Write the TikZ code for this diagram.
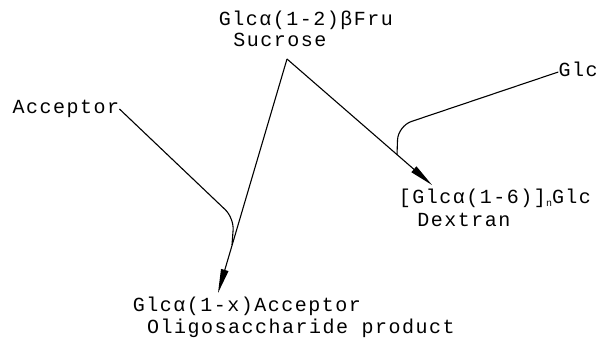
\documentclass[tikz,border=0pt]{standalone}
\usepackage{fontspec}
\setmainfont[LetterSpace=7.5]{Liberation Mono}
\usetikzlibrary{arrows.meta}
\tikzset{
  lbl/.style={inner sep=0pt, text height=11pt, text depth=2pt, font=\fontsize{20}{22}\selectfont},
  conn/.style={line width=1.1pt, black},
  arr/.style={conn, -{Triangle[length=24pt,width=7.5pt]}},
}
\begin{document}
\begin{tikzpicture}[x=1pt,y=-1pt]
\useasboundingbox (0,0) rectangle (602,343);
\node[lbl] (suc1) at (306,21) {Glcα(1-2)βFru};
\node[lbl] (suc2) at (280,42) {Sucrose};
\node[lbl] (acc) at (66,109) {Acceptor};
\node[lbl] (glc) at (578,72) {Glc};
\node[lbl] (dex1) at (495,199) {[Glcα(1-6)]\raisebox{-3pt}{\fontsize{10}{12}\selectfont n}Glc};
\node[lbl] (dex2) at (464,222) {Dextran};
\node[lbl] (prod1) at (247,307) {Glcα(1-x)Acceptor};
\node[lbl] (prod2) at (301,329) {Oligosaccharide product};
\coordinate (apex) at (287,59);
\coordinate (tipL) at (218,293);
\coordinate (tipR) at (432,185);
\coordinate (cornL) at (234,218);
\coordinate (joinL) at (232,245);
\coordinate (cornR) at (398,126);
\coordinate (joinR) at (397,155);
\draw[arr] (apex) -- (tipL);
\draw[arr] (apex) -- (tipR);
\draw[conn, rounded corners=12pt] (acc.east) -- (cornL) -- (joinL);
\draw[conn, rounded corners=14pt] (glc.west) -- (cornR) -- (joinR);
\end{tikzpicture}
\end{document}
